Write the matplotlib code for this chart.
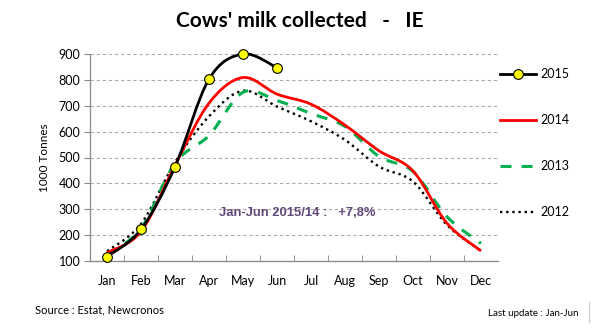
import numpy as np
import matplotlib
matplotlib.use('Agg')
import matplotlib.pyplot as plt
from matplotlib.path import Path
from matplotlib.patches import PathPatch
from matplotlib.lines import Line2D

plt.rcParams['font.family'] = ['Lato', 'DejaVu Sans']

months = ['Jan', 'Feb', 'Mar', 'Apr', 'May', 'Jun',
          'Jul', 'Aug', 'Sep', 'Oct', 'Nov', 'Dec']
y2015 = [117, 222, 464, 803, 900, 847]
y2014 = [132, 214, 470, 710, 809, 745, 706, 625, 526, 448, 246, 139]
y2013 = [125, 226, 478, 585, 752, 720, 670, 620, 504, 446, 271, 168]
y2012 = [138, 243, 482, 659, 758, 697, 640, 568, 465, 407, 239, 139]
years = ['2015', '2014', '2013', '2012']


def smooth_path(xs, ys):
    # excel-like smoothed line: cubic bezier segments, catmull-rom control points
    p = np.column_stack([xs, ys]).astype(float)
    n = len(p)
    verts = [p[0]]
    codes = [Path.MOVETO]
    for i in range(n - 1):
        p0 = p[i - 1] if i > 0 else p[i]
        p3 = p[i + 2] if i + 2 < n else p[i + 1]
        c1 = p[i] + (p[i + 1] - p0) / 6.0
        c2 = p[i + 1] - (p3 - p[i]) / 6.0
        verts += [c1, c2, p[i + 1]]
        codes += [Path.CURVE4] * 3
    return Path(verts, codes)


fig = plt.figure(figsize=(6.05, 3.3), dpi=100)
ax = fig.add_axes([90 / 605, 69 / 330, 408 / 605, 207 / 330])

x = np.arange(len(months))

green = '#00b050'
ax.add_patch(PathPatch(smooth_path(x, y2012), fill=False, ec='black', lw=1.7,
                       ls=(0, (1, 1.6)), capstyle='butt', zorder=3))
ax.add_patch(PathPatch(smooth_path(x, y2013), fill=False, ec=green, lw=2.2,
                       ls=(0, (3.6, 3.3)), capstyle='butt', zorder=4))
ax.add_patch(PathPatch(smooth_path(x, y2014), fill=False, ec='#ff0000', lw=2.0,
                       zorder=5))
ax.add_patch(PathPatch(smooth_path(x[:len(y2015)], y2015), fill=False, ec='black',
                       lw=2.0, zorder=6, clip_on=False))
ax.plot(x[:len(y2015)], y2015, 'o', ms=7, mfc='#ffff00', mec='black', mew=0.8,
        zorder=7, clip_on=False)

ax.set_xlim(-0.5, 11.5)
ax.set_ylim(100, 900)
ax.set_yticks(range(100, 1000, 100))
ax.set_xticks(x)
ax.set_xticklabels(months)
ax.set_xticks(np.arange(0.5, 11.5, 1), minor=True)
ax.tick_params(axis='x', which='major', length=0, pad=10, labelsize=9)
ax.tick_params(axis='x', which='minor', direction='in', length=4, color='#888888')
ax.tick_params(axis='y', length=4, color='#888888', labelsize=9, pad=3)
ax.grid(axis='y', ls=(0, (3, 2.5)), color='#aaaaaa', lw=0.8)
ax.set_axisbelow(True)
for s in ['top', 'right']:
    ax.spines[s].set_visible(False)
for s in ['left', 'bottom']:
    ax.spines[s].set_color('#888888')
    ax.spines[s].set_linewidth(0.9)
ax.set_ylabel('1000 Tonnes', fontsize=8.5, labelpad=6)

ax.text(5.6, 286, 'Jan-Jun 2015/14 :   +7,8%', color='#60497a', fontsize=9.4,
        fontweight='bold', family='Liberation Sans', ha='center', va='center')

handles = [
    Line2D([], [], color='black', lw=2, marker='o', ms=7, mfc='#ffff00',
           mec='black', mew=0.8),
    Line2D([], [], color='#ff0000', lw=2),
    Line2D([], [], color=green, lw=2.2, ls=(0, (3.6, 3.3))),
    Line2D([], [], color='black', lw=1.7, ls=(0, (1, 1.6))),
]
fig.legend(handles, years, loc='upper left', bbox_to_anchor=(500 / 605, 1 - 68 / 330),
           frameon=False, fontsize=9, labelspacing=2.72, handlelength=2.9,
           handletextpad=0.3, borderaxespad=0, borderpad=0)

fig.text(300 / 605, 1 - 21 / 330, "Cows' milk collected   -   IE", fontsize=15,
         fontweight='bold', ha='center', va='center')
fig.text(35 / 605, 1 - 310 / 330, 'Source : Estat, Newcronos', fontsize=8,
         ha='left', va='center')
fig.text(578 / 605, 1 - 313 / 330, 'Last update : Jan-Jun', fontsize=7,
         ha='right', va='center')
fig.add_artist(Line2D([589 / 605, 589 / 605], [1 - 302 / 330, 1 - 322 / 330],
                      color='#cccccc', lw=0.8))

fig.savefig('out.png', dpi=100)
